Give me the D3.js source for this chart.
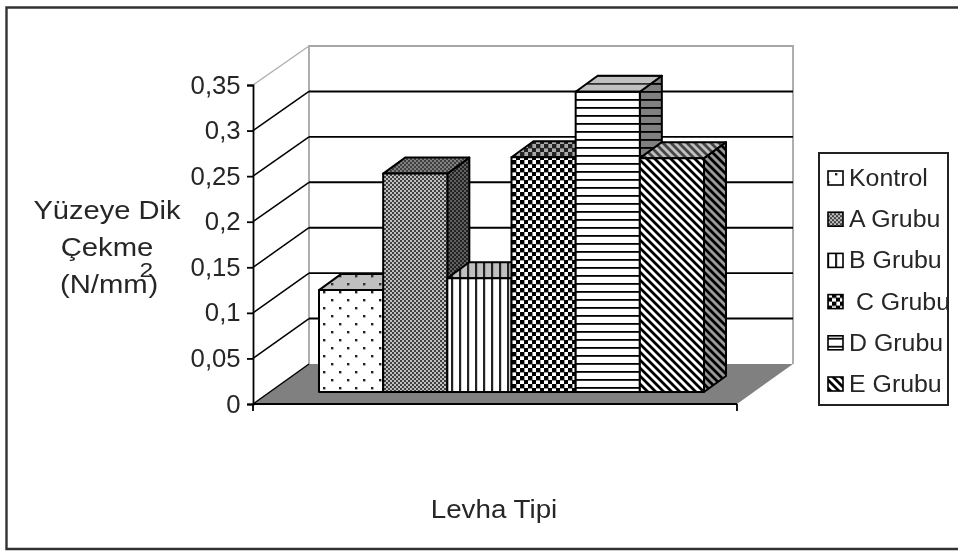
<!DOCTYPE html>
<html lang="en">
<head>
    <meta charset="UTF-8">
    <title>Levha Tipi</title>
    <style>
        body { margin: 0; background: #fff; }
        svg { display: block; }
        text { font-family: 'Liberation Sans', Arial, sans-serif; fill: #262626; }
    </style>
</head>
<body>
    <svg width="958" height="551"></svg>
    <script src="https://d3js.org/d3.v7.min.js"></script>
    <script>
        // Values
        var groups = ["Kontrol", "A Grubu", "B Grubu", " C Grubu", "D Grubu", "E Grubu"];
        var values = [0.112, 0.24, 0.125, 0.258, 0.33, 0.257];
        var tickValues = [0, 0.05, 0.1, 0.15, 0.2, 0.25, 0.3, 0.35];
        var tickLabels = ["0", "0,05", "0,1", "0,15", "0,2", "0,25", "0,3", "0,35"];
        var patternNames = ["dots", "fine", "vert", "check", "horiz", "diag"];

        var svg = d3.select("svg");
        var defs = svg.append("defs");
        var fontSize = 25;

        // Scales for the front axis, the back wall and the plane the bars stand on
        var yFront = d3.scaleLinear().domain([0, 0.35]).range([404, 85]);
        var yBack = d3.scaleLinear().domain([0, 0.35]).range([364, 46]);
        var yBar = d3.scaleLinear().domain([0, 0.35]).range([392, 73.5]);
        var xBar = d3.scaleBand().domain(d3.range(groups.length)).range([319, 704]);
        var wall = {left: 309, right: 793};
        var front = {left: 253, right: 737};
        var barDx = 22, barDy = 16;

        // soft look of the scanned screenshot
        defs.append("filter").attr("id", "soft")
            .attr("filterUnits", "userSpaceOnUse")
            .attr("x", 0).attr("y", 0).attr("width", 958).attr("height", 551)
            .append("feGaussianBlur").attr("stdDeviation", 0.45);

        // Hatch patterns, one tile per face shade
        function tile(id, size, bg, ink, draw) {
            var p = defs.append("pattern").attr("id", id)
                .attr("patternUnits", "userSpaceOnUse")
                .attr("width", size).attr("height", size);
            p.append("rect").attr("width", size).attr("height", size).attr("fill", bg);
            draw(p, ink);
        }
        function squares(p, ink, list, s) {
            list.forEach(function(c) {
                p.append("rect").attr("x", c[0]).attr("y", c[1])
                    .attr("width", s).attr("height", s).attr("fill", ink);
            });
        }
        var drawers = {
            dots: [16, function(p, ink) { squares(p, ink, [[3, 3], [11, 11]], 2.4); }],
            fine: [4, function(p, ink) { squares(p, ink, [[0, 0], [2, 2]], 2); }],
            vert: [8, function(p, ink) {
                p.append("rect").attr("x", 3).attr("width", 2.2).attr("height", 8).attr("fill", ink);
            }],
            check: [8, function(p, ink) { squares(p, ink, [[0, 0], [4, 4]], 4.4); }],
            horiz: [8, function(p, ink) {
                p.append("rect").attr("y", 3).attr("width", 8).attr("height", 1.8).attr("fill", ink);
            }],
            diag: [8, function(p, ink) {
                p.append("path").attr("d", "M-2,-2L10,10M-10,-2L2,10M6,-2L18,10")
                    .attr("stroke", ink).attr("stroke-width", 2.8);
            }]
        };
        // background and ink per pattern, for front, top and side faces
        var shades = {
            dots: {front: ["#fff", "#222"], top: ["#c0c0c0", "#333"], side: ["#808080", "#222"]},
            fine: {front: ["#c0c0c0", "#404040"], top: ["#808080", "#404040"], side: ["#606060", "#202020"]},
            vert: {front: ["#fff", "#222"], top: ["#c0c0c0", "#222"], side: ["#808080", "#000"]},
            check: {front: ["#fff", "#000"], top: ["#aaa", "#222"], side: ["#808080", "#000"]},
            horiz: {front: ["#fff", "#000"], top: ["#c0c0c0", "#333"], side: ["#808080", "#000"]},
            diag: {front: ["#fff", "#000"], top: ["#c0c0c0", "#444"], side: ["#999", "#000"]}
        };
        patternNames.forEach(function(name) {
            Object.keys(shades[name]).forEach(function(face) {
                var s = shades[name][face];
                tile(name + "-" + face, drawers[name][0], s[0], s[1], drawers[name][1]);
            });
        });

        var chart = svg.append("g").attr("filter", "url(#soft)");

        // Outer frame, open on the right like the picture
        chart.append("path")
            .attr("d", "M958,7.5H6.5V549H958")
            .attr("fill", "none").attr("stroke", "#333").attr("stroke-width", 2.4);

        // Back wall and floor
        chart.append("polygon")
            .attr("points", [[front.left, yFront(0)], [front.right, yFront(0)], [wall.right, yBack(0)], [wall.left, yBack(0)]].join(" "))
            .attr("fill", "#808080");
        chart.append("path")
            .attr("d", "M" + wall.left + "," + yBack(0) + "V" + yBack(0.35) + "H" + wall.right + "V" + yBack(0))
            .attr("fill", "none").attr("stroke", "#a6a6a6").attr("stroke-width", 1.8);

        // Gridlines: slanted on the side wall, straight on the back wall
        tickValues.forEach(function(v) {
            var top = v == 0.35;
            chart.append("line")
                .attr("x1", front.left).attr("y1", yFront(v))
                .attr("x2", wall.left).attr("y2", yBack(v))
                .attr("stroke", top ? "#b0b0b0" : "#000").attr("stroke-width", 1.5);
            if (v > 0 && !top) {
                chart.append("line")
                    .attr("x1", wall.left).attr("y1", yBack(v))
                    .attr("x2", wall.right).attr("y2", yBack(v))
                    .attr("stroke", "#000").attr("stroke-width", 1.9);
            }
        });

        // Bars, left to right so each one covers the side of the previous
        var bars = chart.selectAll(".bar")
            .data(values)
            .enter().append("g").attr("class", "bar");

        function barFace(pick) {
            return function(d, i) {
                var x0 = xBar(i), x1 = x0 + xBar.bandwidth(), yt = yBar(d), yb = yBar(0);
                return pick(x0, x1, yt, yb).join(" ");
            };
        }
        function outline(sel) {
            return sel.attr("stroke", "#000").attr("stroke-width", 2).attr("stroke-linejoin", "round");
        }
        outline(bars.append("polygon")
            .attr("points", barFace(function(x0, x1, yt, yb) {
                return [[x1, yt], [x1 + barDx, yt - barDy], [x1 + barDx, yb - barDy], [x1, yb]];
            }))
            .attr("fill", function(d, i) { return "url(#" + patternNames[i] + "-side)"; }));
        outline(bars.append("polygon")
            .attr("points", barFace(function(x0, x1, yt) {
                return [[x0, yt], [x0 + barDx, yt - barDy], [x1 + barDx, yt - barDy], [x1, yt]];
            }))
            .attr("fill", function(d, i) { return "url(#" + patternNames[i] + "-top)"; }));
        outline(bars.append("polygon")
            .attr("points", barFace(function(x0, x1, yt, yb) {
                return [[x0, yt], [x1, yt], [x1, yb], [x0, yb]];
            }))
            .attr("fill", function(d, i) { return "url(#" + patternNames[i] + "-front)"; }));

        // Value axis at the front left
        var yAxis = d3.axisLeft(yFront)
            .tickValues(tickValues)
            .tickSize(6)
            .tickPadding(6)
            .tickFormat(function(d, i) { return tickLabels[i]; });
        var axisG = chart.append("g")
            .attr("transform", "translate(" + front.left + ",0)")
            .call(yAxis);
        axisG.selectAll("path, line").attr("stroke", "#000").attr("stroke-width", 1.8);
        axisG.selectAll("text").attr("font-size", fontSize).attr("transform", "scale(1.03,1)");

        // Floor front edge with its two end ticks
        chart.append("path")
            .attr("d", "M" + front.left + ",404H" + front.right + "M" + front.left + ",404V411M" + front.right + ",404V411")
            .attr("fill", "none").attr("stroke", "#000").attr("stroke-width", 1.8);

        // Axis titles, stretched sideways because the original glyphs run wider
        function title(x, y, str, stretch, anchor) {
            return chart.append("text")
                .attr("transform", "translate(" + x + "," + y + ") scale(" + stretch + ",1)")
                .attr("text-anchor", anchor || "middle")
                .attr("font-size", fontSize)
                .text(str);
        }
        title(107, 219, "Yüzeye Dik", 1.165);
        title(107, 256, "Çekme", 1.17);
        var unit = title(60, 293, "(N/mm", 1.17, "start");
        unit.append("tspan").attr("dx", -7).attr("dy", -16).attr("font-size", 21).text("2");
        unit.append("tspan").attr("dx", -4).attr("dy", 16).text(")");
        title(494, 518, "Levha Tipi", 1.11);

        // Legend
        chart.append("rect")
            .attr("x", 819).attr("y", 153).attr("width", 129).attr("height", 252)
            .attr("fill", "#fff").attr("stroke", "#222").attr("stroke-width", 2);
        var legendY = d3.scalePoint().domain(d3.range(groups.length)).range([186, 392]);
        var legend = chart.selectAll(".legend-item")
            .data(groups)
            .enter().append("g").attr("class", "legend-item")
            .attr("transform", function(d, i) { return "translate(0," + legendY(i) + ")"; });
        legend.append("rect")
            .attr("x", 828).attr("y", -15).attr("width", 15).attr("height", 14)
            .attr("fill", function(d, i) { return "url(#" + patternNames[i] + "-front)"; })
            .attr("stroke", "#000").attr("stroke-width", 1.6);
        legend.append("text")
            .attr("transform", "translate(849,0) scale(1.06,1)")
            .style("white-space", "pre")
            .attr("font-size", 23.5)
            .text(function(d) { return d; });
    </script>
</body>
</html>
